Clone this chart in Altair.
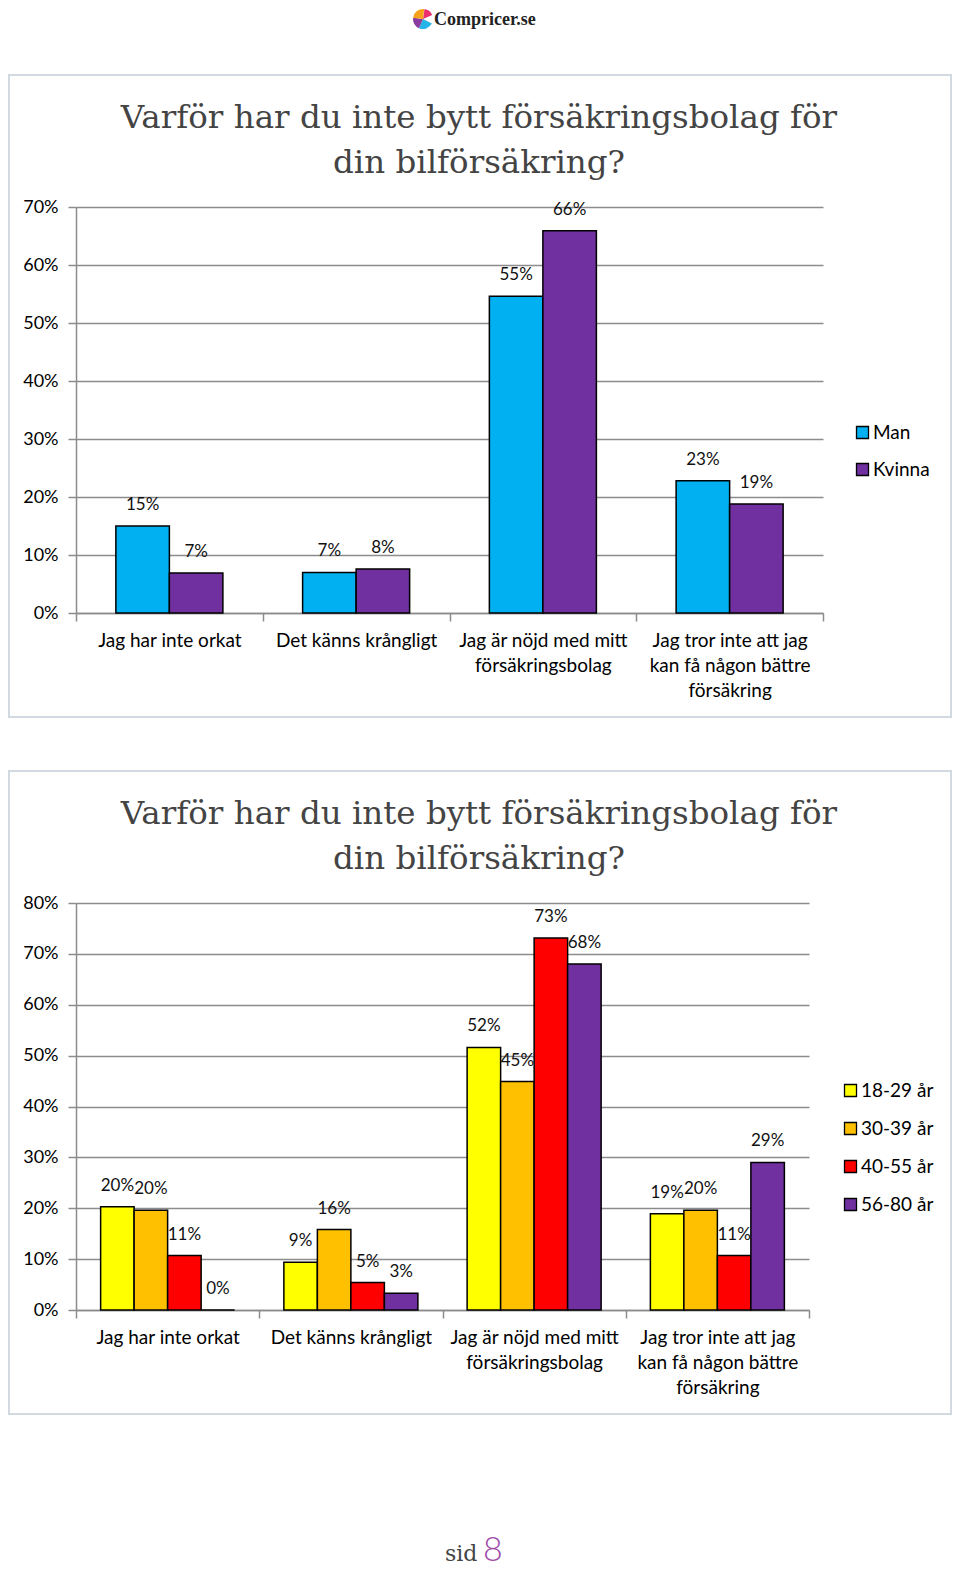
import altair as alt
import pandas as pd

# ---------------- data ----------------
categories = [
    "Jag har inte orkat",
    "Det känns krångligt",
    "Jag är nöjd med mitt\nförsäkringsbolag",
    "Jag tror inte att jag\nkan få någon bättre\nförsäkring",
]

genders = ["Man", "Kvinna"]
man = [15.0, 7.0, 54.6, 22.8]
kvinna = [6.9, 7.6, 65.9, 18.8]
gender_colors = ["#00b0f0", "#7030a0"]

ages = ["18-29 år", "30-39 år", "40-55 år", "56-80 år"]
age_18_29 = [20.3, 9.4, 51.6, 18.9]
age_30_39 = [19.6, 15.8, 44.9, 19.6]
age_40_55 = [10.7, 5.4, 73.1, 10.7]
age_56_80 = [0.0, 3.3, 68.0, 29.0]
age_colors = ["#ffff00", "#ffc000", "#ff0000", "#7030a0"]

y1_ticks = [0, 10, 20, 30, 40, 50, 60, 70]
y2_ticks = [0, 10, 20, 30, 40, 50, 60, 70, 80]

title_lines = ["Varför har du inte bytt försäkringsbolag för", "din bilförsäkring?"]
logo_text = "Compricer.se"
logo_colors = ["#ec2f6f", "#26b5e9", "#8b3d9f", "#f6a31b"]
logo_start = [0.15, 2.05, 3.55, 4.85]
logo_end = [1.15, 3.55, 4.85, 6.40]
footer_word = "sid"
footer_page = "8"


def long_table(series_names, series_values):
    rows = []
    for s, vals in zip(series_names, series_values):
        for c, v in zip(categories, vals):
            rows.append({"category": c, "series": s, "value": v})
    return pd.DataFrame(rows)


df1 = long_table(genders, [man, kvinna])
df2 = long_table(ages, [age_18_29, age_30_39, age_40_55, age_56_80])
one = pd.DataFrame({"k": [0]})

GRID = "#8c8c8c"
FONT = "Lato"
FRAME = "#d3d9e0"


def panel(df, series, colors, ticks, width, height, pad_outer, legend_x, legend_y, row_pad):
    x = alt.X(
        "category:N",
        sort=categories,
        title=None,
        scale=alt.Scale(paddingInner=0, paddingOuter=0),
        axis=alt.Axis(
            labelAngle=0,
            tickBand="extent",
            labelExpr="split(datum.label, '\\n')",
            labelFont=FONT,
            labelFontSize=19,
            labelColor="#000000",
            labelLineHeight=25,
            labelPadding=10,
            labelLimit=400,
            labelOverlap=False,
            tickSize=8,
            tickColor=GRID,
            tickWidth=1.5,
            domainColor=GRID,
            domainWidth=1.5,
        ),
    )
    y = alt.Y(
        "value:Q",
        title=None,
        scale=alt.Scale(domain=[0, ticks[-1]], nice=False),
        axis=alt.Axis(
            values=ticks,
            labelExpr="datum.value + '%'",
            labelFont=FONT,
            labelFontSize=18,
            labelColor="#000000",
            labelPadding=10,
            tickSize=8,
            tickColor=GRID,
            tickWidth=1.5,
            domainColor=GRID,
            domainWidth=1.5,
            grid=True,
            gridColor=GRID,
            gridWidth=1.5,
        ),
    )
    xo = alt.XOffset(
        "series:N",
        sort=series,
        scale=alt.Scale(domain=series, paddingInner=0, paddingOuter=pad_outer),
    )

    frame = alt.Chart(one).mark_rect(
        fill="transparent", stroke=FRAME, strokeWidth=2
    ).encode(
        x=alt.value(-67), x2=alt.value(875), y=alt.value(-132), y2=alt.value(height + 104)
    )

    title = alt.Chart(one).mark_text(
        text=title_lines,
        font="DejaVu Serif",
        fontSize=32.5,
        color="#444444",
        align="center",
        baseline="middle",
        lineHeight=45,
    ).encode(x=alt.value(403), y=alt.value(-89))

    bars = alt.Chart(df).mark_bar(stroke="#000000", strokeWidth=1.5).encode(
        x=x,
        xOffset=xo,
        y=y,
        color=alt.Color(
            "series:N",
            sort=series,
            scale=alt.Scale(domain=series, range=colors),
            legend=alt.Legend(
                title=None,
                orient="none",
                legendX=legend_x,
                legendY=legend_y,
                symbolType="square",
                symbolSize=144,
                symbolStrokeColor="#000000",
                symbolStrokeWidth=1.3,
                labelFont=FONT,
                labelFontSize=19,
                labelColor="#000000",
                labelOffset=1,
                rowPadding=row_pad,
                padding=0,
            ),
        ),
    )

    labels = alt.Chart(df).transform_calculate(
        label="format(datum.value, '.0f') + '%'"
    ).mark_text(
        font=FONT, fontSize=17, color="#111111", baseline="middle", dy=-21
    ).encode(
        x=alt.X("category:N", sort=categories),
        xOffset=xo,
        y=alt.Y("value:Q"),
        text="label:N",
    )

    return alt.layer(frame, title, bars, labels).properties(width=width, height=height)


p1 = panel(df1, genders, gender_colors, y1_ticks, 747, 406, 0.745, 777, 216, 17)
p2 = panel(df2, ages, age_colors, y2_ticks, 733, 407, 0.735, 765, 178, 18)

# logo (top of page) inside first panel layer
logo_df = pd.DataFrame({"start": logo_start, "end": logo_end, "c": logo_colors})
logo_icon = alt.Chart(logo_df).mark_arc(radius=10).encode(
    theta=alt.Theta("start:Q", scale=None, stack=False),
    theta2=alt.Theta2("end:Q"),
    fill=alt.Fill("c:N", scale=None, legend=None),
    x=alt.value(347),
    y=alt.value(-188),
)
logo_label = alt.Chart(one).mark_text(
    text=logo_text, font="Liberation Serif", fontWeight="bold", fontSize=18,
    color="#222222", align="left", baseline="alphabetic",
).encode(x=alt.value(358), y=alt.value(-182))

p1 = alt.layer(p1, logo_icon, logo_label)

footer1 = alt.Chart(one).mark_text(
    text=footer_word, font="DejaVu Serif", fontSize=22, color="#444444",
    align="left", baseline="alphabetic",
).encode(x=alt.value(369), y=alt.value(658))
footer2 = alt.Chart(one).mark_text(
    text=footer_page, font=FONT, fontWeight=300, fontSize=34, color="#a04ca8",
    align="left", baseline="alphabetic",
).encode(x=alt.value(407), y=alt.value(658))

p2 = alt.layer(p2, footer1, footer2)

chart = alt.vconcat(p1, p2, spacing=290, bounds="flush").resolve_scale(
    color="independent", xOffset="independent"
).properties(
    autosize=alt.AutoSizeParams(type="none"),
    padding={"left": 68, "top": 199, "right": 876, "bottom": 1362},
    background="white",
).configure_view(stroke="transparent")

chart.save("out.html", embed_options={"renderer": "svg", "actions": False})
